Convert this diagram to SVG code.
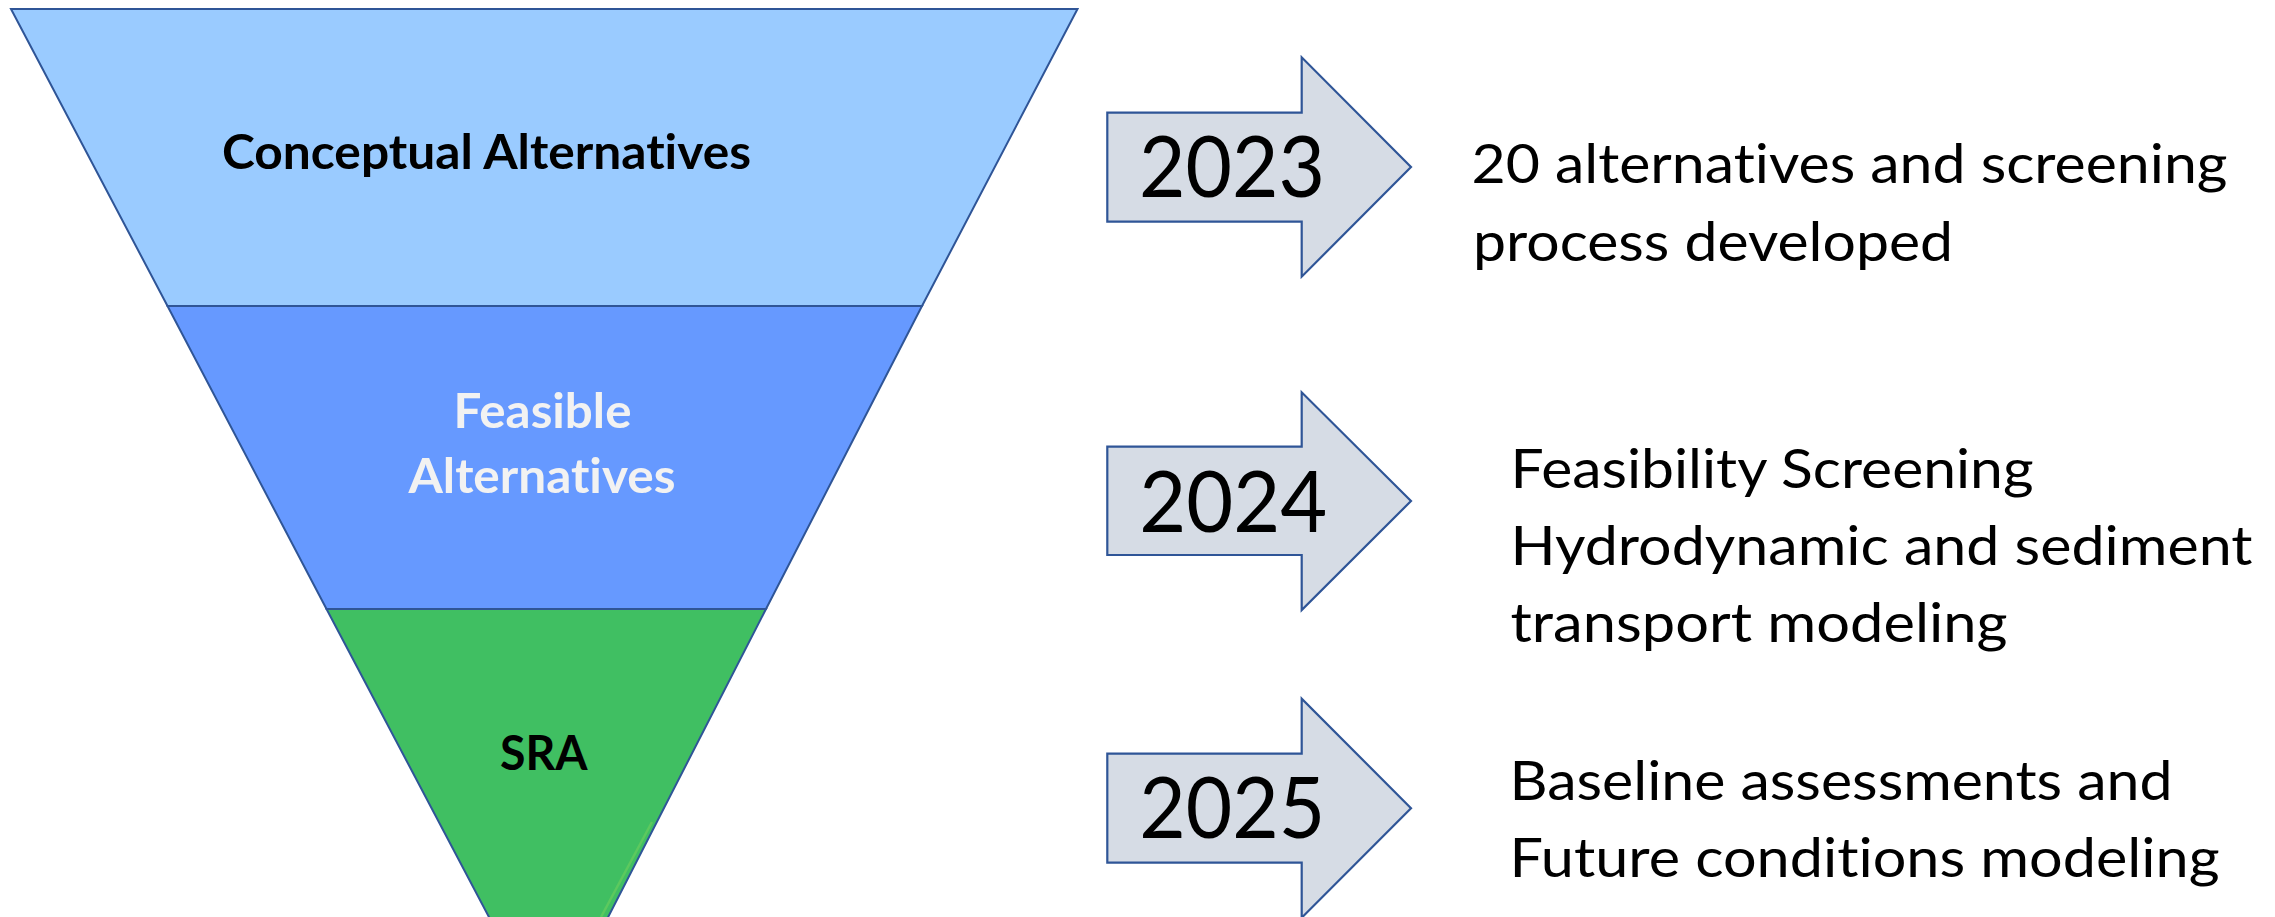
<svg xmlns="http://www.w3.org/2000/svg" width="2275" height="917" viewBox="0 0 2275 917">
  <style>
    text { font-variant-ligatures: none; font-feature-settings: "liga" 0, "clig" 0, "dlig" 0; }
    .band { stroke: #2F5597; stroke-width: 2; stroke-linejoin: miter; }
    .arrow { fill: #D6DCE5; stroke: #2F5597; stroke-width: 2.2; stroke-linejoin: miter; }
    .lbl { font-family: Lato, "Liberation Sans", sans-serif; font-weight: bold; font-size: 47px; }
    .year { font-family: Lato, "Liberation Sans", sans-serif; font-size: 85px; fill: #000000; }
    .desc { font-family: Lato, "Liberation Sans", sans-serif; font-size: 55px; fill: #000000; }
  </style>
  <rect x="0" y="0" width="2275" height="917" fill="#FFFFFF"/>

  <g id="band-conceptual">
    <polygon class="band" fill="#9ACBFF" points="11,9 1077.5,9 922,306 167.5,306"/>
    <text class="lbl" fill="#000000" x="222" y="168.7" textLength="529" lengthAdjust="spacingAndGlyphs">Conceptual Alternatives</text>
  </g>

  <g id="band-feasible">
    <polygon class="band" fill="#6699FF" points="167.5,306 922,306 766,609 326.5,609"/>
    <text class="lbl" fill="#F2F2F2" x="453.5" y="428.4" textLength="178" lengthAdjust="spacingAndGlyphs">Feasible</text>
    <text class="lbl" fill="#F2F2F2" x="408.5" y="493" textLength="267" lengthAdjust="spacingAndGlyphs">Alternatives</text>
  </g>

  <g id="band-sra">
    <polygon class="band" fill="#40BF62" points="326.5,609 766,609 601.5,930 495.8,930"/>
    <line x1="652" y1="822" x2="601" y2="917" stroke="#5CC95E" stroke-width="2.5"/>
    <text class="lbl" fill="#000000" x="500" y="770" textLength="87.6" lengthAdjust="spacingAndGlyphs">SRA</text>
  </g>

  <g id="connectors">
    <g id="arrow-2023">
      <polygon class="arrow" points="1107.3,112.7 1301.7,112.7 1301.7,57.3 1411,167 1301.7,276.7 1301.7,221.7 1107.3,221.7"/>
      <text class="year" x="1139" y="197.3" textLength="186" lengthAdjust="spacingAndGlyphs">2023</text>
    </g>
    <g id="arrow-2024">
      <polygon class="arrow" points="1107.3,446.7 1301.7,446.7 1301.7,392.3 1411,501 1301.7,610 1301.7,555 1107.3,555"/>
      <text class="year" x="1139.3" y="531.7" textLength="188" lengthAdjust="spacingAndGlyphs">2024</text>
    </g>
    <g id="arrow-2025">
      <polygon class="arrow" points="1107.3,753.7 1301.7,753.7 1301.7,698.7 1411,808.2 1301.7,917.7 1301.7,862.7 1107.3,862.7"/>
      <text class="year" x="1139.3" y="837.7" textLength="186" lengthAdjust="spacingAndGlyphs">2025</text>
    </g>
  </g>

  <g id="desc-2023">
    <text class="desc" x="1471.5" y="183.3" textLength="756" lengthAdjust="spacingAndGlyphs">20 alternatives and screening</text>
    <text class="desc" x="1473" y="260.7" textLength="480" lengthAdjust="spacingAndGlyphs">process developed</text>
  </g>

  <g id="desc-2024">
    <text class="desc" x="1510.5" y="488.3" textLength="523" lengthAdjust="spacingAndGlyphs">Feasibility Screening</text>
    <text class="desc" x="1510.5" y="565" textLength="742" lengthAdjust="spacingAndGlyphs">Hydrodynamic and sediment</text>
    <text class="desc" x="1510.5" y="641.7" textLength="497" lengthAdjust="spacingAndGlyphs">transport modeling</text>
  </g>

  <g id="desc-2025">
    <text class="desc" x="1509.5" y="800" textLength="663" lengthAdjust="spacingAndGlyphs">Baseline assessments and</text>
    <text class="desc" x="1509.5" y="877.3" textLength="710" lengthAdjust="spacingAndGlyphs">Future conditions modeling</text>
  </g>
</svg>
